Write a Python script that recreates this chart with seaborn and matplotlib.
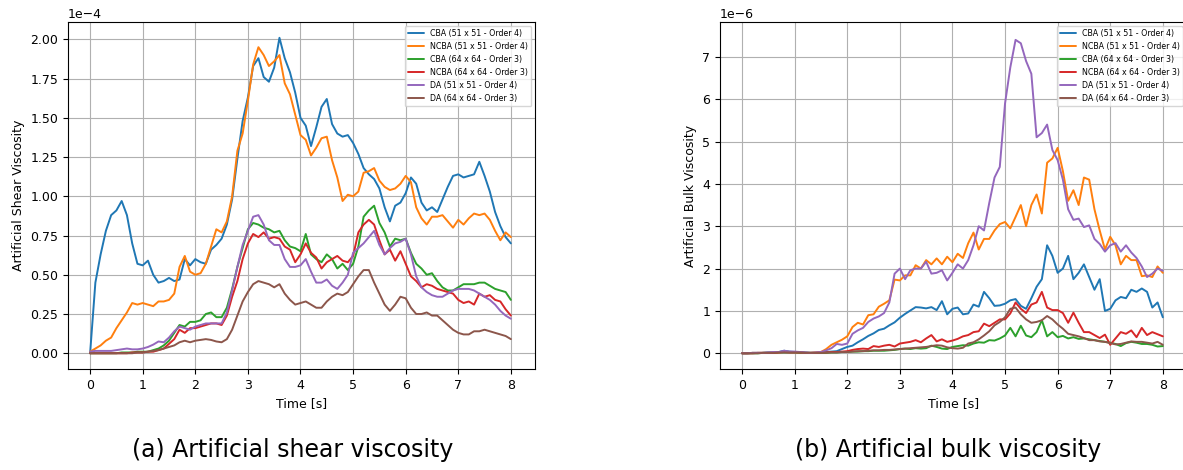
import numpy as np
import pandas as pd
import matplotlib
matplotlib.use("Agg")
import matplotlib.pyplot as plt
import seaborn as sns
from matplotlib.ticker import MultipleLocator

# Sampling times [s]
time = np.round(np.arange(0.0, 8.01, 0.1), 2)

methods = [
    "CBA (51 x 51 - Order 4)",
    "NCBA (51 x 51 - Order 4)",
    "CBA (64 x 64 - Order 3)",
    "NCBA (64 x 64 - Order 3)",
    "DA (51 x 51 - Order 4)",
    "DA (64 x 64 - Order 3)",
]
colors = ["#1f77b4", "#ff7f0e", "#2ca02c", "#d62728", "#9467bd", "#8c564b"]

# Artificial shear viscosity, in units of 1e-4
shear_cba_51 = [
    0.00, 0.45, 0.63, 0.78, 0.88, 0.91, 0.97, 0.88, 0.70, 0.57,
    0.56, 0.59, 0.50, 0.45, 0.46, 0.48, 0.46, 0.47, 0.60, 0.56,
    0.60, 0.58, 0.57, 0.66, 0.69, 0.73, 0.82, 0.98, 1.24, 1.48,
    1.63, 1.83, 1.88, 1.76, 1.73, 1.82, 2.01, 1.88, 1.79, 1.66,
    1.50, 1.45, 1.32, 1.44, 1.57, 1.62, 1.46, 1.40, 1.38, 1.39,
    1.34, 1.27, 1.18, 1.14, 1.11, 1.05, 0.93, 0.84, 0.94, 0.96,
    1.02, 1.12, 1.08, 0.96, 0.91, 0.93, 0.90, 0.98, 1.06, 1.13,
    1.14, 1.12, 1.13, 1.14, 1.22, 1.13, 1.03, 0.90, 0.81, 0.74,
    0.70,
]
shear_ncba_51 = [
    0.01, 0.03, 0.05, 0.08, 0.10, 0.16, 0.21, 0.26, 0.32, 0.31,
    0.32, 0.31, 0.30, 0.33, 0.33, 0.34, 0.38, 0.55, 0.62, 0.52,
    0.50, 0.51, 0.57, 0.68, 0.79, 0.77, 0.84, 1.00, 1.29, 1.40,
    1.61, 1.84, 1.95, 1.90, 1.83, 1.86, 1.90, 1.72, 1.65, 1.52,
    1.39, 1.36, 1.26, 1.31, 1.37, 1.38, 1.23, 1.12, 0.97, 1.01,
    1.00, 1.03, 1.15, 1.16, 1.18, 1.10, 1.06, 1.04, 1.05, 1.08,
    1.13, 1.09, 0.93, 0.86, 0.82, 0.87, 0.87, 0.88, 0.84, 0.80,
    0.85, 0.82, 0.86, 0.89, 0.88, 0.89, 0.85, 0.78, 0.72, 0.77,
    0.74,
]
shear_cba_64 = [
    0.00, 0.00, 0.00, 0.00, 0.00, 0.00, 0.005, 0.005, 0.005, 0.01,
    0.01, 0.01, 0.02, 0.03, 0.05, 0.08, 0.13, 0.18, 0.17, 0.20,
    0.20, 0.21, 0.25, 0.26, 0.23, 0.23, 0.29, 0.41, 0.55, 0.67,
    0.79, 0.83, 0.82, 0.80, 0.79, 0.77, 0.78, 0.72, 0.68, 0.67,
    0.65, 0.76, 0.63, 0.60, 0.58, 0.63, 0.60, 0.54, 0.57, 0.53,
    0.57, 0.68, 0.87, 0.91, 0.94, 0.83, 0.77, 0.68, 0.73, 0.72,
    0.73, 0.64, 0.57, 0.54, 0.50, 0.51, 0.46, 0.42, 0.40, 0.40,
    0.42, 0.44, 0.44, 0.44, 0.45, 0.45, 0.43, 0.41, 0.40, 0.39,
    0.34,
]
shear_ncba_64 = [
    0.00, 0.00, 0.00, 0.00, 0.00, 0.00, 0.00, 0.00, 0.005, 0.005,
    0.005, 0.01, 0.01, 0.02, 0.03, 0.06, 0.09, 0.15, 0.13, 0.16,
    0.16, 0.17, 0.18, 0.19, 0.19, 0.18, 0.24, 0.36, 0.46, 0.60,
    0.70, 0.76, 0.74, 0.77, 0.73, 0.74, 0.73, 0.68, 0.66, 0.58,
    0.63, 0.70, 0.64, 0.61, 0.54, 0.58, 0.60, 0.62, 0.59, 0.58,
    0.62, 0.77, 0.82, 0.85, 0.82, 0.72, 0.63, 0.66, 0.59, 0.65,
    0.57, 0.49, 0.46, 0.42, 0.44, 0.43, 0.41, 0.40, 0.39, 0.38,
    0.34, 0.32, 0.33, 0.31, 0.38, 0.36, 0.37, 0.34, 0.33, 0.28,
    0.24,
]
shear_da_51 = [
    0.01, 0.015, 0.015, 0.015, 0.015, 0.02, 0.025, 0.03, 0.025, 0.025,
    0.03, 0.04, 0.055, 0.075, 0.07, 0.10, 0.14, 0.17, 0.16, 0.15,
    0.17, 0.18, 0.19, 0.19, 0.19, 0.19, 0.26, 0.40, 0.55, 0.69,
    0.78, 0.87, 0.88, 0.82, 0.72, 0.69, 0.69, 0.60, 0.55, 0.55,
    0.56, 0.60, 0.52, 0.45, 0.45, 0.47, 0.43, 0.41, 0.45, 0.50,
    0.64, 0.67, 0.70, 0.74, 0.78, 0.69, 0.63, 0.67, 0.70, 0.71,
    0.73, 0.63, 0.49, 0.42, 0.39, 0.37, 0.36, 0.36, 0.38, 0.40,
    0.41, 0.41, 0.41, 0.40, 0.38, 0.36, 0.34, 0.31, 0.27, 0.24,
    0.22,
]
shear_da_64 = [
    0.00, 0.00, 0.00, 0.00, 0.00, 0.00, 0.00, 0.00, 0.00, 0.005,
    0.005, 0.01, 0.015, 0.02, 0.03, 0.04, 0.05, 0.07, 0.08, 0.07,
    0.08, 0.085, 0.09, 0.085, 0.075, 0.07, 0.09, 0.15, 0.24, 0.33,
    0.39, 0.44, 0.46, 0.45, 0.44, 0.42, 0.44, 0.38, 0.34, 0.31,
    0.32, 0.33, 0.31, 0.29, 0.29, 0.33, 0.36, 0.38, 0.37, 0.39,
    0.44, 0.49, 0.53, 0.53, 0.45, 0.38, 0.31, 0.27, 0.31, 0.36,
    0.35, 0.29, 0.25, 0.25, 0.26, 0.24, 0.24, 0.21, 0.18, 0.15,
    0.13, 0.12, 0.12, 0.14, 0.14, 0.15, 0.14, 0.13, 0.12, 0.11,
    0.09,
]

# Artificial bulk viscosity, in units of 1e-6
bulk_cba_51 = [
    0.00, 0.00, 0.01, 0.01, 0.01, 0.02, 0.02, 0.03, 0.06, 0.04,
    0.03, 0.03, 0.02, 0.01, 0.01, 0.02, 0.03, 0.04, 0.05, 0.10,
    0.15, 0.18, 0.26, 0.33, 0.41, 0.47, 0.55, 0.58, 0.66, 0.73,
    0.84, 0.93, 1.01, 1.09, 1.08, 1.06, 1.09, 1.02, 1.23, 0.92,
    1.05, 1.08, 0.92, 0.94, 1.15, 1.10, 1.45, 1.30, 1.12, 1.13,
    1.17, 1.25, 1.28, 1.12, 1.05, 1.30, 1.57, 1.75, 2.55, 2.30,
    1.90, 2.00, 2.30, 1.75, 1.90, 2.10, 1.80, 1.50, 1.75, 1.00,
    1.05, 1.25, 1.33, 1.30, 1.50, 1.45, 1.53, 1.45, 1.08, 1.20,
    0.85,
]
bulk_ncba_51 = [
    0.00, 0.00, 0.01, 0.01, 0.01, 0.01, 0.02, 0.02, 0.04, 0.03,
    0.03, 0.02, 0.01, 0.01, 0.02, 0.03, 0.10, 0.20, 0.26, 0.32,
    0.40, 0.62, 0.72, 0.68, 0.90, 0.92, 1.10, 1.17, 1.25, 1.74,
    1.72, 1.84, 1.84, 2.08, 2.00, 2.20, 2.10, 2.24, 2.10, 2.28,
    2.15, 2.35, 2.25, 2.60, 2.85, 2.45, 2.70, 2.70, 2.90, 3.05,
    3.10, 2.95, 3.22, 3.50, 3.00, 3.50, 3.75, 3.30, 4.50, 4.60,
    4.85, 4.30, 3.60, 3.85, 3.50, 4.15, 4.10, 3.40, 2.90, 2.45,
    2.75, 2.55, 2.10, 2.30, 2.20, 2.20, 1.82, 1.84, 1.80, 2.05,
    1.90,
]
bulk_cba_64 = [
    0.00, 0.00, 0.00, 0.00, 0.01, 0.01, 0.01, 0.02, 0.02, 0.02,
    0.02, 0.01, 0.01, 0.01, 0.01, 0.01, 0.01, 0.02, 0.02, 0.03,
    0.03, 0.04, 0.04, 0.05, 0.05, 0.06, 0.06, 0.06, 0.07, 0.08,
    0.10, 0.11, 0.10, 0.12, 0.11, 0.12, 0.18, 0.15, 0.11, 0.10,
    0.15, 0.17, 0.19, 0.18, 0.23, 0.26, 0.25, 0.31, 0.30, 0.35,
    0.42, 0.60, 0.40, 0.65, 0.42, 0.38, 0.50, 0.78, 0.40, 0.50,
    0.38, 0.41, 0.35, 0.38, 0.34, 0.35, 0.33, 0.31, 0.29, 0.27,
    0.25, 0.22, 0.17, 0.24, 0.27, 0.25, 0.22, 0.22, 0.20, 0.16,
    0.17,
]
bulk_ncba_64 = [
    0.00, 0.00, 0.00, 0.01, 0.01, 0.01, 0.01, 0.02, 0.03, 0.02,
    0.02, 0.02, 0.01, 0.01, 0.01, 0.02, 0.02, 0.03, 0.03, 0.04,
    0.05, 0.08, 0.10, 0.11, 0.10, 0.17, 0.15, 0.18, 0.20, 0.16,
    0.23, 0.25, 0.27, 0.31, 0.26, 0.35, 0.43, 0.28, 0.33, 0.27,
    0.30, 0.34, 0.40, 0.43, 0.50, 0.52, 0.70, 0.64, 0.72, 0.80,
    0.80, 0.94, 1.20, 1.05, 0.95, 1.15, 1.20, 1.45, 1.08, 1.02,
    1.02, 0.95, 0.72, 0.96, 0.72, 0.50, 0.50, 0.43, 0.36, 0.44,
    0.20, 0.35, 0.50, 0.46, 0.54, 0.38, 0.60, 0.43, 0.50, 0.45,
    0.40,
]
bulk_da_51 = [
    0.00, 0.00, 0.01, 0.01, 0.01, 0.02, 0.03, 0.03, 0.06, 0.04,
    0.04, 0.03, 0.02, 0.01, 0.02, 0.03, 0.07, 0.12, 0.22, 0.20,
    0.23, 0.46, 0.54, 0.60, 0.74, 0.82, 0.87, 0.95, 1.20, 1.88,
    2.00, 1.75, 1.96, 2.00, 2.00, 2.16, 1.88, 1.90, 1.96, 1.72,
    1.90, 2.10, 2.00, 2.20, 2.55, 3.00, 2.90, 3.55, 4.15, 4.40,
    5.90, 6.75, 7.40, 7.32, 6.90, 6.60, 5.10, 5.20, 5.40, 4.80,
    4.56, 4.10, 3.40, 3.15, 3.18, 2.98, 3.02, 2.70, 2.58, 2.40,
    2.55, 2.60, 2.40, 2.55, 2.38, 2.25, 2.05, 1.80, 1.88, 2.00,
    1.95,
]
bulk_da_64 = [
    0.00, 0.00, 0.00, 0.00, 0.01, 0.01, 0.01, 0.02, 0.02, 0.02,
    0.02, 0.02, 0.01, 0.01, 0.01, 0.01, 0.02, 0.02, 0.02, 0.03,
    0.03, 0.04, 0.05, 0.05, 0.06, 0.07, 0.07, 0.08, 0.08, 0.09,
    0.10, 0.11, 0.12, 0.13, 0.14, 0.15, 0.17, 0.19, 0.18, 0.14,
    0.12, 0.11, 0.13, 0.23, 0.26, 0.33, 0.42, 0.52, 0.66, 0.74,
    0.85, 1.05, 1.08, 0.92, 0.80, 0.72, 0.74, 0.78, 0.88, 0.80,
    0.68, 0.58, 0.46, 0.43, 0.40, 0.36, 0.31, 0.31, 0.28, 0.27,
    0.24, 0.21, 0.22, 0.25, 0.28, 0.27, 0.27, 0.25, 0.23, 0.27,
    0.20,
]

shear_series = [shear_cba_51, shear_ncba_51, shear_cba_64,
                shear_ncba_64, shear_da_51, shear_da_64]
bulk_series = [bulk_cba_51, bulk_ncba_51, bulk_cba_64,
               bulk_ncba_64, bulk_da_51, bulk_da_64]


def long_frame(series, scale):
    parts = []
    for name, vals in zip(methods, series):
        parts.append(pd.DataFrame({
            "Time": time,
            "value": np.asarray(vals) * scale,
            "method": name,
        }))
    return pd.concat(parts, ignore_index=True)


sns.set_style("ticks", {
    "axes.grid": True,
    "grid.color": "#b0b0b0",
    "axes.edgecolor": "black",
    "xtick.color": "black",
    "ytick.color": "black",
    "text.color": "black",
    "axes.labelcolor": "black",
})
plt.rcParams["font.family"] = ["DejaVu Sans"]
plt.rcParams["font.size"] = 9
plt.rcParams["grid.linewidth"] = 0.8

fig = plt.figure(figsize=(11.83, 4.70), dpi=100)
ax1 = fig.add_axes([0.0575, 0.215, 0.3948, 0.738])
ax2 = fig.add_axes([0.6086, 0.215, 0.3948, 0.738])

panels = [
    (ax1, long_frame(shear_series, 1e-4), "Artificial Shear Viscosity",
     (-0.10e-4, 2.11e-4), 0.25e-4),
    (ax2, long_frame(bulk_series, 1e-6), "Artificial Bulk Viscosity",
     (-0.37e-6, 7.82e-6), 1e-6),
]

for ax, df, ylab, ylim, ystep in panels:
    sns.lineplot(data=df, x="Time", y="value", hue="method",
                 hue_order=methods, palette=colors, linewidth=1.4,
                 ax=ax, legend=True)
    ax.set_xlim(-0.42, 8.46)
    ax.set_ylim(*ylim)
    ax.xaxis.set_major_locator(MultipleLocator(1))
    ax.yaxis.set_major_locator(MultipleLocator(ystep))
    ax.set_xlabel("Time [s]", fontsize=9)
    ax.set_ylabel(ylab, fontsize=9)
    ax.tick_params(labelsize=9, direction="out", length=3.5, width=0.8)
    ax.yaxis.get_offset_text().set_fontsize(9)
    for sp in ax.spines.values():
        sp.set_visible(True)
        sp.set_color("black")
        sp.set_linewidth(0.8)
    ax.grid(True, color="#b0b0b0", linewidth=0.8)
    handles, labels = ax.get_legend_handles_labels()
    ax.legend(handles, labels, loc="upper right", fontsize=5.7,
              framealpha=0.8, handlelength=2.0)

ax1.yaxis.set_major_formatter(plt.ScalarFormatter(useMathText=False))
ax1.yaxis.get_major_formatter().set_powerlimits((0, 0))

fig.text(0.2477, 0.043, "(a) Artificial shear viscosity", ha="center",
         va="center", fontsize=17, family="DejaVu Sans")
fig.text(0.8015, 0.043, "(b) Artificial bulk viscosity", ha="center",
         va="center", fontsize=17, family="DejaVu Sans")

fig.savefig("out.png", dpi=100)
